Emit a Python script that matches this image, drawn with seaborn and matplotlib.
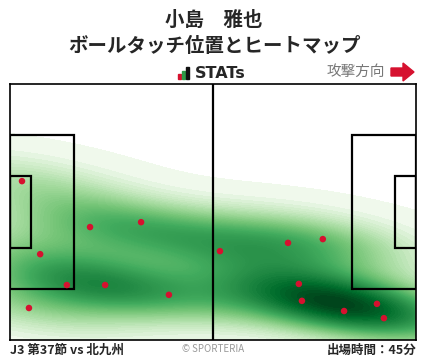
import matplotlib
matplotlib.use("Agg")
import numpy as np
import pandas as pd
import seaborn as sns
from matplotlib import pyplot as plt
from matplotlib.colors import ListedColormap
from matplotlib.patches import Rectangle, Polygon

# ボールタッチ位置 (m, 105 x 68 pitch, attack -> right)
touch_x = [3.1, 20.7, 33.9, 7.8, 14.7, 24.6, 41.1, 4.9, 54.3, 71.9, 80.9, 74.7, 75.5, 86.4, 94.9, 96.7]
touch_y = [42.2, 30.0, 31.3, 22.8, 14.6, 14.6, 12.0, 8.5, 23.6, 25.8, 26.8, 14.9, 10.4, 7.7, 9.6, 5.8]

player = "小島\u3000雅也"
subtitle = "ボールタッチ位置とヒートマップ"
match_label = "J3 第37節 vs 北九州"
minutes_label = "出場時間：45分"

df = pd.DataFrame({"x": touch_x, "y": touch_y})

sns.set_style("white")
plt.rcParams['font.family'] = ['Noto Sans CJK JP', 'DejaVu Sans']

# Greens, pushed a little darker in the middle tones
greens = plt.get_cmap("Greens")
cmap = ListedColormap(greens(np.linspace(0, 1, 256) ** 0.85))

fig = plt.figure(figsize=(4.28, 3.59), dpi=100)
W, H = 428, 359
ax = fig.add_axes([10 / W, (H - 340) / H, 406 / W, 256 / H])

sns.kdeplot(data=df, x="x", y="y", fill=True, cmap=cmap, levels=90,
            thresh=0.002, bw_adjust=0.92, clip=((0, 105), (0, 68)), ax=ax)
sns.scatterplot(data=df, x="x", y="y", color="#d6112f", s=22, edgecolor="none", ax=ax, zorder=5)

# pitch lines
lw = 1.6
pa_w, pa_y0, pa_y1 = 16.6, 13.5, 54.5
ga_w, ga_y0, ga_y1 = 5.4, 24.5, 43.5
for x0, w in [(0, pa_w), (105 - pa_w, pa_w)]:
    ax.add_patch(Rectangle((x0, pa_y0), w, pa_y1 - pa_y0, fill=False, lw=lw, ec="black", zorder=4))
for x0, w in [(0, ga_w), (105 - ga_w, ga_w)]:
    ax.add_patch(Rectangle((x0, ga_y0), w, ga_y1 - ga_y0, fill=False, lw=lw, ec="black", zorder=4))
ax.axvline(52.5, color="black", lw=lw, zorder=4)

ax.set_xlim(0, 105)
ax.set_ylim(0, 68)
ax.set_xticks([])
ax.set_yticks([])
ax.set_xlabel("")
ax.set_ylabel("")
for s in ax.spines.values():
    s.set_linewidth(1.2)
    s.set_color("black")

# header
fig.text(0.5, 1 - 20 / H, player, ha="center", va="center", fontsize=14, fontweight="bold")
fig.text(0.5, 1 - 46 / H, subtitle, ha="center", va="center", fontsize=14, fontweight="bold")
fig.text(195 / W, 1 - 73 / H, "STATs", ha="left", va="center", fontsize=11.5, fontweight="bold",
         family=["DejaVu Sans"])
for i, (c, h) in enumerate([("#d6112f", 5), ("#2e9a47", 8), ("#111111", 12)]):
    fig.patches.append(Rectangle(((178 + i * 4) / W, (H - 79) / H), 3 / W, h / H,
                                 transform=fig.transFigure, color=c))
fig.text(385 / W, 1 - 72 / H, "攻撃方向", ha="right", va="center", fontsize=10.5, color="#777777")
arrow = [(391, 68), (403, 68), (403, 63), (414, 72), (403, 81), (403, 76), (391, 76)]
fig.patches.append(Polygon([(px / W, 1 - py / H) for px, py in arrow], closed=True,
                           transform=fig.transFigure, color="#d6112f"))

# footer
fig.text(10 / W, 1 - 350 / H, match_label, ha="left", va="center", fontsize=9, fontweight="bold")
fig.text(213 / W, 1 - 349 / H, "© SPORTERIA", ha="center", va="center", fontsize=7, color="#999999")
fig.text(416 / W, 1 - 350 / H, minutes_label, ha="right", va="center", fontsize=9, fontweight="bold")

fig.savefig("out.png", dpi=100)
